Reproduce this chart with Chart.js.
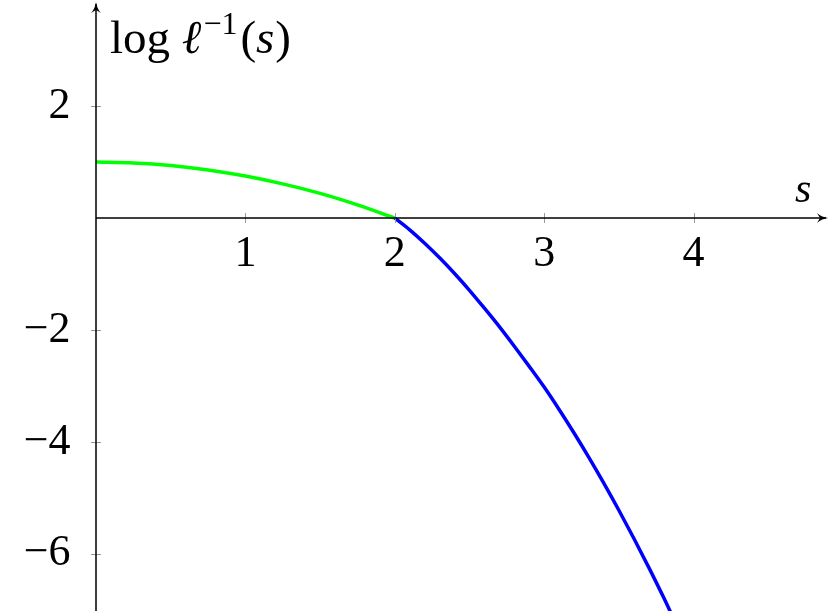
<!DOCTYPE html>
<html>
<head>
<meta charset="utf-8">
<script src="https://cdn.jsdelivr.net/npm/chart.js@4"></script>
<style>
  body { margin: 0; background: #fff; }
  #wrap { width: 830px; height: 611px; }
</style>
</head>
<body>
<div id="wrap"><canvas id="chart" width="830" height="611"></canvas></div>
<script>
// values
const greenS = [0, 0.25, 0.5, 0.75, 1.0, 1.25, 1.5, 1.75, 2.0];
const greenY = [1.0, 0.985, 0.94, 0.86, 0.75, 0.61, 0.44, 0.235, 0];

const blueS = [2.0, 2.1, 2.2, 2.3, 2.4, 2.5, 2.6, 2.7, 2.8, 2.9, 3.0, 3.1, 3.2, 3.3, 3.4, 3.5, 3.6, 3.7, 3.8, 3.86];
const blueY = [0, -0.21, -0.45, -0.71, -0.99, -1.29, -1.61, -1.94, -2.29, -2.65, -3.02, -3.42, -3.84, -4.28, -4.74, -5.22, -5.72, -6.24, -6.78, -7.12];

const xTicks = [1, 2, 3, 4];
const yTicks = [-6, -4, -2, 2];

const serif = '"Liberation Serif", "DejaVu Serif", serif';

function toPoints(xs, ys) {
    return xs.map((x, i) => ({ x: x, y: ys[i] }));
}

// axes through the origin with arrow heads, crossing tick marks and the titles
const axisPlugin = {
    id: 'axisPlugin',
    afterDraw(chart) {
        const ctx = chart.ctx;
        const xs = chart.scales.x;
        const ys = chart.scales.y;
        const x0 = xs.getPixelForValue(0);
        const y0 = ys.getPixelForValue(0);
        const right = chart.chartArea.right;
        const top = chart.chartArea.top;
        const bottom = chart.chartArea.bottom;

        ctx.save();
        // tick marks
        ctx.strokeStyle = '#999';
        ctx.lineWidth = 1;
        xTicks.forEach(v => {
            const px = Math.round(xs.getPixelForValue(v)) + 0.5;
            ctx.beginPath();
            ctx.moveTo(px, y0 - 5);
            ctx.lineTo(px, y0 + 5);
            ctx.stroke();
        });
        yTicks.forEach(v => {
            const py = Math.round(ys.getPixelForValue(v)) + 0.5;
            ctx.beginPath();
            ctx.moveTo(x0 - 5, py);
            ctx.lineTo(x0 + 5, py);
            ctx.stroke();
        });

        // axis lines
        ctx.strokeStyle = '#000';
        ctx.lineWidth = 1.5;
        ctx.beginPath();
        ctx.moveTo(x0, bottom);
        ctx.lineTo(x0, top + 2);
        ctx.moveTo(x0, y0);
        ctx.lineTo(right - 2, y0);
        ctx.stroke();

        // arrow heads
        ctx.fillStyle = '#000';
        ctx.beginPath();
        ctx.moveTo(right, y0);
        ctx.quadraticCurveTo(right - 7, y0 - 1, right - 11, y0 - 5);
        ctx.lineTo(right - 8, y0);
        ctx.lineTo(right - 11, y0 + 5);
        ctx.quadraticCurveTo(right - 7, y0 + 1, right, y0);
        ctx.fill();
        ctx.beginPath();
        ctx.moveTo(x0, top);
        ctx.quadraticCurveTo(x0 - 1, top + 7, x0 - 5, top + 11);
        ctx.lineTo(x0, top + 8);
        ctx.lineTo(x0 + 5, top + 11);
        ctx.quadraticCurveTo(x0 + 1, top + 7, x0, top);
        ctx.fill();

        // titles
        ctx.fillStyle = '#000';
        ctx.textBaseline = 'alphabetic';
        ctx.textAlign = 'left';
        ctx.font = 'italic 42px ' + serif;
        ctx.fillText('s', 795, 202);

        let cx = 110;
        const base = 53;
        const parts = [
            ['log ', '47px ' + serif, 0, 0],
            ['\u2113', 'italic 47px ' + serif, 0, 2],
            ['\u22121', '32px ' + serif, -19, 3],
            ['(', '47px ' + serif, 0, 0],
            ['s', 'italic 47px ' + serif, 0, 1],
            [')', '47px ' + serif, 0, 0]
        ];
        parts.forEach(p => {
            ctx.font = p[1];
            ctx.fillText(p[0], cx, base + p[2]);
            cx += ctx.measureText(p[0]).width + p[3];
        });
        ctx.restore();
    }
};

new Chart(document.getElementById('chart'), {
    type: 'scatter',
    data: {
        datasets: [
            {
                label: 'green',
                data: toPoints(greenS, greenY),
                showLine: true,
                borderColor: '#00ff00',
                borderWidth: 3.5,
                pointRadius: 0,
                cubicInterpolationMode: 'monotone',
                fill: false
            },
            {
                label: 'blue',
                data: toPoints(blueS, blueY),
                showLine: true,
                borderColor: '#0000ff',
                borderWidth: 3.5,
                pointRadius: 0,
                cubicInterpolationMode: 'monotone',
                fill: false
            }
        ]
    },
    options: {
        responsive: false,
        animation: false,
        layout: {
            padding: { left: 96, right: 2, top: 2, bottom: 0 }
        },
        scales: {
            x: {
                type: 'linear',
                min: 0,
                max: 4.9,
                position: { y: 0 },
                afterBuildTicks: scale => { scale.ticks = xTicks.map(v => ({ value: v })); },
                afterFit: scale => {
                    scale.height = 0;
                    scale.paddingLeft = 0;
                    scale.paddingRight = 0;
                },
                grid: { display: false, drawTicks: false },
                border: { display: false },
                ticks: {
                    font: { family: serif, size: 44 },
                    color: '#000',
                    padding: 10,
                    maxRotation: 0,
                    autoSkip: false
                }
            },
            y: {
                type: 'linear',
                min: -7.02,
                max: 3.86,
                // labels sit right-aligned a little left of the s = 0 line
                position: { x: -0.17 },
                afterBuildTicks: scale => { scale.ticks = yTicks.map(v => ({ value: v })); },
                afterFit: scale => {
                    scale.width = 0;
                    scale.paddingTop = 0;
                    scale.paddingBottom = 0;
                },
                grid: { display: false, drawTicks: false },
                border: { display: false },
                ticks: {
                    font: { family: serif, size: 44 },
                    color: '#000',
                    padding: 0,
                    autoSkip: false,
                    callback: v => (v < 0 ? '\u2212' + Math.abs(v) : String(v))
                }
            }
        },
        plugins: {
            legend: { display: false },
            tooltip: { enabled: false }
        }
    },
    plugins: [axisPlugin]
});
</script>
</body>
</html>
